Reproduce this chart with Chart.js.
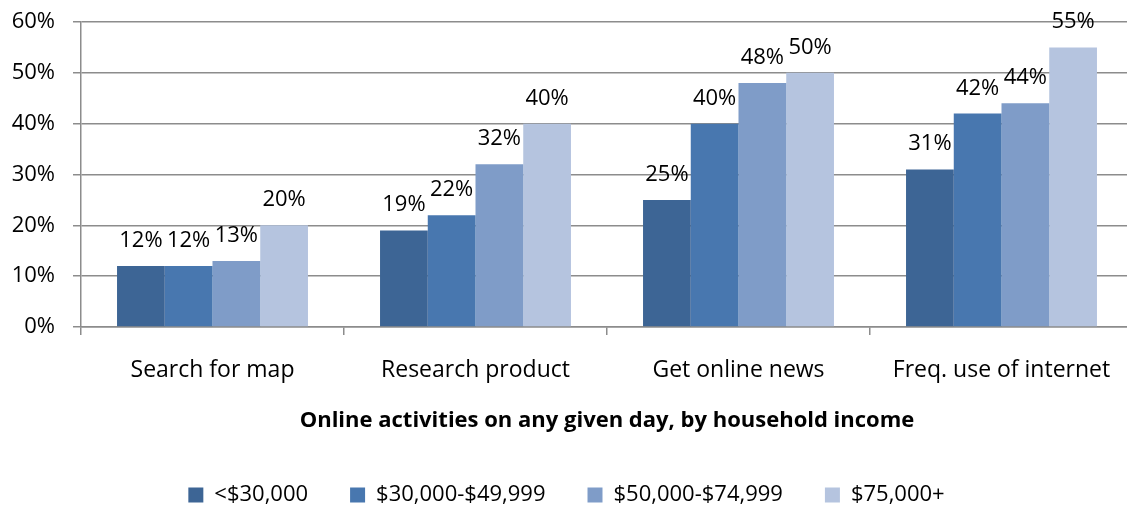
<!DOCTYPE html>
<html>
<head>
<meta charset="utf-8">
<script src="https://cdn.jsdelivr.net/npm/chart.js@4"></script>
<style>
  html, body { margin: 0; padding: 0; background: #fff; overflow: hidden; }
  #wrap { width: 1127px; height: 506px; overflow: hidden; }
</style>
</head>
<body>
<div id="wrap"><canvas id="incomeChart" width="1134" height="516"></canvas></div>
<script>
const categories = ["Search for map", "Research product", "Get online news", "Freq. use of internet"];
const seriesNames = ["<$30,000", "$30,000-$49,999", "$50,000-$74,999", "$75,000+"];
const under30k = [12, 19, 25, 31];
const from30to50k = [12, 22, 40, 42];
const from50to75k = [13, 32, 48, 44];
const over75k = [20, 40, 50, 55];
const yTicks = [0, 10, 20, 30, 40, 50, 60];

const colors = ["#3D6595", "#4877AF", "#7F9CC8", "#B5C4DF"];
const fontFamily = "'Open Sans', sans-serif";

// draws the % value above every bar
const valueLabels = {
    id: "valueLabels",
    afterDatasetsDraw(chart) {
        const ctx = chart.ctx;
        ctx.save();
        ctx.font = "22px " + fontFamily;
        ctx.fillStyle = "#000";
        ctx.textAlign = "center";
        ctx.textBaseline = "alphabetic";
        chart.data.datasets.forEach((ds, i) => {
            chart.getDatasetMeta(i).data.forEach((bar, j) => {
                ctx.fillText(ds.data[j] + "%", bar.x, bar.y - 19);
            });
        });
        ctx.restore();
    }
};

const ctx = document.getElementById("incomeChart").getContext("2d");

new Chart(ctx, {
    type: "bar",
    data: {
        labels: categories,
        datasets: [under30k, from30to50k, from50to75k, over75k].map((vals, i) => ({
            label: seriesNames[i],
            data: vals,
            backgroundColor: colors[i],
            borderWidth: 0,
            barPercentage: 1.0,
            categoryPercentage: 0.726
        }))
    },
    options: {
        responsive: false,
        animation: false,
        layout: { padding: { left: 0, right: 1, top: 0, bottom: 0 } },
        scales: {
            x: {
                grid: {
                    drawOnChartArea: false,
                    drawTicks: true,
                    tickLength: 8,
                    color: "#8c8c8c",
                    lineWidth: 1.5
                },
                border: { color: "#8c8c8c", width: 1.5 },
                ticks: {
                    color: "#000",
                    font: { family: fontFamily, size: 23 },
                    padding: 22,
                    maxRotation: 0
                },
                title: {
                    display: true,
                    text: "Online activities on any given day, by household income",
                    color: "#000",
                    font: { family: fontFamily, size: 22, weight: "bold" },
                    padding: { top: 1, bottom: 8 }
                }
            },
            y: {
                min: 0,
                max: 60,
                afterBuildTicks(axis) {
                    axis.ticks = yTicks.map(v => ({ value: v }));
                },
                afterFit(axis) {
                    axis.width = 81;
                    axis.paddingTop = 22;
                    axis.paddingBottom = 0;
                },
                grid: {
                    color: "#8c8c8c",
                    lineWidth: 1.5,
                    tickLength: 8
                },
                border: { color: "#8c8c8c", width: 1.5 },
                ticks: {
                    color: "#000",
                    font: { family: fontFamily, size: 22 },
                    padding: 18,
                    callback: v => v + "%"
                }
            }
        },
        plugins: {
            legend: {
                position: "bottom",
                labels: {
                    color: "#000",
                    font: { family: fontFamily, size: 22 },
                    boxWidth: 15,
                    boxHeight: 15,
                    padding: 42
                }
            },
            tooltip: { enabled: false }
        }
    },
    plugins: [valueLabels]
});
</script>
</body>
</html>
